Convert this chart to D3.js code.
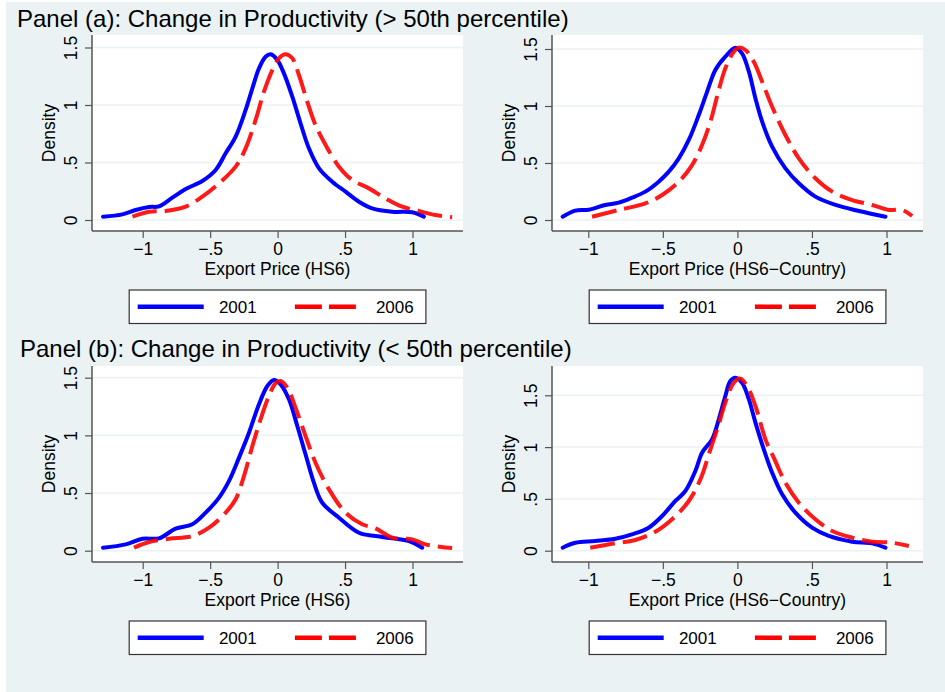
<!DOCTYPE html>
<html>
<head>
<meta charset="utf-8">
<script src="https://cdn.jsdelivr.net/npm/d3@7"></script>
<style>
  html, body { margin: 0; padding: 0; background: #fff; }
  svg { display: block; }
</style>
</head>
<body>
<svg id="chart" width="945" height="692"></svg>
<script>
// Kernel density estimates, [export price, density]
const aHs6_2001 = [[-1.294,0.029],[-1.150,0.049],[-1.052,0.087],[-0.953,0.113],[-0.879,0.119],[-0.780,0.194],[-0.681,0.270],[-0.558,0.339],[-0.459,0.435],[-0.385,0.580],[-0.311,0.725],[-0.237,0.957],[-0.187,1.145],[-0.138,1.319],[-0.089,1.420],[-0.052,1.441],[-0.002,1.391],[0.047,1.275],[0.109,1.072],[0.170,0.841],[0.232,0.623],[0.307,0.449],[0.405,0.333],[0.504,0.246],[0.603,0.159],[0.701,0.101],[0.850,0.072],[0.998,0.067],[1.084,0.029]];
const aHs6_2006 = [[-1.076,0.029],[-0.953,0.072],[-0.830,0.078],[-0.681,0.116],[-0.558,0.203],[-0.434,0.319],[-0.311,0.464],[-0.237,0.623],[-0.163,0.870],[-0.101,1.116],[-0.039,1.304],[0.010,1.406],[0.059,1.441],[0.109,1.406],[0.158,1.261],[0.220,1.029],[0.281,0.826],[0.356,0.652],[0.455,0.464],[0.553,0.348],[0.677,0.275],[0.800,0.188],[0.924,0.116],[1.047,0.078],[1.170,0.043],[1.294,0.023]];
const aCty_2001 = [[-1.172,0.029],[-1.087,0.082],[-0.997,0.090],[-0.886,0.132],[-0.796,0.152],[-0.707,0.196],[-0.617,0.249],[-0.528,0.336],[-0.460,0.424],[-0.393,0.541],[-0.326,0.702],[-0.259,0.921],[-0.203,1.126],[-0.148,1.316],[-0.081,1.433],[-0.013,1.512],[0.031,1.462],[0.077,1.301],[0.121,1.067],[0.166,0.863],[0.233,0.643],[0.322,0.453],[0.412,0.322],[0.523,0.205],[0.658,0.132],[0.815,0.079],[0.993,0.029]];
const aCty_2006 = [[-0.975,0.029],[-0.796,0.088],[-0.617,0.146],[-0.505,0.219],[-0.393,0.336],[-0.304,0.482],[-0.237,0.658],[-0.181,0.863],[-0.125,1.140],[-0.081,1.330],[-0.024,1.477],[0.009,1.512],[0.054,1.491],[0.110,1.389],[0.166,1.213],[0.233,0.994],[0.322,0.746],[0.412,0.541],[0.523,0.366],[0.636,0.249],[0.770,0.175],[0.904,0.132],[1.016,0.088],[1.105,0.088],[1.172,0.035]];
const bHs6_2001 = [[-1.294,0.026],[-1.126,0.055],[-1.002,0.104],[-0.879,0.107],[-0.756,0.191],[-0.632,0.229],[-0.533,0.330],[-0.434,0.460],[-0.360,0.605],[-0.286,0.807],[-0.212,1.023],[-0.138,1.270],[-0.076,1.428],[-0.027,1.481],[0.022,1.443],[0.084,1.313],[0.146,1.081],[0.207,0.836],[0.269,0.590],[0.331,0.416],[0.455,0.286],[0.603,0.156],[0.726,0.127],[0.850,0.107],[0.973,0.084],[1.072,0.026]];
const bHs6_2006 = [[-1.064,0.026],[-0.953,0.075],[-0.805,0.104],[-0.632,0.127],[-0.508,0.200],[-0.385,0.330],[-0.311,0.446],[-0.249,0.648],[-0.187,0.908],[-0.126,1.140],[-0.064,1.342],[-0.015,1.452],[0.022,1.472],[0.072,1.414],[0.133,1.240],[0.207,0.995],[0.281,0.763],[0.381,0.532],[0.504,0.330],[0.627,0.229],[0.726,0.194],[0.850,0.113],[0.998,0.098],[1.096,0.055],[1.294,0.023]];
const bCty_2001 = [[-1.172,0.029],[-1.087,0.077],[-0.953,0.094],[-0.819,0.116],[-0.707,0.158],[-0.595,0.222],[-0.505,0.335],[-0.416,0.480],[-0.349,0.576],[-0.282,0.769],[-0.237,0.946],[-0.170,1.075],[-0.125,1.268],[-0.081,1.493],[-0.047,1.638],[-0.013,1.670],[0.031,1.622],[0.077,1.461],[0.121,1.236],[0.177,0.979],[0.233,0.753],[0.300,0.544],[0.389,0.367],[0.501,0.222],[0.613,0.142],[0.770,0.087],[0.904,0.071],[0.993,0.029]];
const bCty_2006 = [[-0.987,0.029],[-0.841,0.068],[-0.685,0.103],[-0.550,0.183],[-0.438,0.303],[-0.326,0.480],[-0.248,0.689],[-0.181,0.979],[-0.125,1.220],[-0.081,1.429],[-0.024,1.622],[0.020,1.661],[0.065,1.590],[0.121,1.397],[0.188,1.075],[0.244,0.898],[0.322,0.656],[0.412,0.463],[0.523,0.303],[0.636,0.190],[0.770,0.126],[0.904,0.087],[1.038,0.077],[1.150,0.045]];

const years = ["2001", "2006"];
const xTicks = [-1, -0.5, 0, 0.5, 1];
const yTicks = [0, 0.5, 1, 1.5];
const rowTitles = [
  "Panel (a): Change in Productivity (> 50th percentile)",
  "Panel (b): Change in Productivity (< 50th percentile)"
];
const xTitles = ["Export Price (HS6)", "Export Price (HS6\u2212Country)"];
const yTitle = "Density";

(function() {
  const svg = d3.select("#chart");
  const FONT = "'Liberation Sans', Arial, Helvetica, sans-serif";
  const BG = "#eaf2f3";
  const AXIS = "#555555";
  const BLUE = "#0000ff";
  const RED = "#ff0000";

  // Stata-ish tick labels: -.5 -> "−.5"
  const fmt = d => d === 0 ? "0" : (d < 0 ? "\u2212" : "") + String(Math.abs(d)).replace(/^0\./, ".");

  svg.append("rect")
    .attr("x", 6).attr("y", 2)
    .attr("width", 939).attr("height", 690)
    .attr("fill", BG);

  // Row titles
  [[17, 27], [20, 357]].forEach((p, i) => {
    svg.append("text")
      .attr("x", p[0]).attr("y", p[1])
      .attr("font-family", FONT)
      .attr("font-size", 24)
      .attr("fill", "#000")
      .text(rowTitles[i]);
  });

  // Panel geometry (pixels): plot box + where -1/1 and 0/1.5 fall
  const panels = [
    { box: [92, 35, 463, 231],   xr: [142.7, 412.5], yr: [220, 47.5],   series: [aHs6_2001, aHs6_2006], xt: 0 },
    { box: [552, 35, 923, 231],  xr: [588.3, 886.5], yr: [220, 49],     series: [aCty_2001, aCty_2006], xt: 1 },
    { box: [92, 366, 463, 562],  xr: [142.7, 412.5], yr: [550.7, 377.7], series: [bHs6_2001, bHs6_2006], xt: 0 },
    { box: [552, 366, 923, 562], xr: [588.3, 886.5], yr: [550.7, 395.3], series: [bCty_2001, bCty_2006], xt: 1 }
  ];

  panels.forEach(drawPanel);

  function drawPanel(p) {
    const [x0, y0, x1, y1] = p.box;
    const cx = (x0 + x1) / 2;
    const x = d3.scaleLinear().domain([-1, 1]).range(p.xr);
    const y = d3.scaleLinear().domain([0, 1.5]).range(p.yr);
    const g = svg.append("g");

    // plot region
    g.append("rect")
      .attr("x", x0).attr("y", y0)
      .attr("width", x1 - x0).attr("height", y1 - y0)
      .attr("fill", "#fff");

    // grid lines
    g.selectAll(".grid").data(yTicks).join("line")
      .attr("x1", x0).attr("x2", x1)
      .attr("y1", d => y(d)).attr("y2", d => y(d))
      .attr("stroke", BG)
      .attr("stroke-width", 1.5);

    // density curves, 2006 drawn on top
    const line = d3.line()
      .x(d => x(d[0]))
      .y(d => y(d[1]))
      .curve(d3.curveCatmullRom.alpha(0.5));

    g.append("path")
      .attr("d", line(p.series[0]))
      .attr("fill", "none")
      .attr("stroke", BLUE)
      .attr("stroke-width", 4)
      .attr("stroke-linecap", "round")
      .attr("stroke-linejoin", "round");

    g.append("path")
      .attr("d", line(p.series[1]))
      .attr("fill", "none")
      .attr("stroke", RED)
      .attr("stroke-opacity", 0.9)
      .attr("stroke-width", 4)
      .attr("stroke-dasharray", "25,8")
      .attr("stroke-linejoin", "round");

    // y axis
    const yAxis = g.append("g")
      .attr("transform", `translate(${x0},0)`)
      .call(d3.axisLeft(y).tickValues(yTicks).tickFormat(fmt).tickSize(7).tickSizeOuter(0));
    yAxis.select(".domain").remove();
    yAxis.selectAll(".tick line").attr("stroke", AXIS).attr("stroke-width", 1.2);
    yAxis.selectAll(".tick text")
      .attr("x", null).attr("dy", null)
      .attr("text-anchor", "middle")
      .attr("transform", "translate(-15.5,0) rotate(-90)")
      .attr("font-family", FONT)
      .attr("font-size", 17.5)
      .attr("fill", "#000");
    g.append("line")
      .attr("x1", x0).attr("x2", x0)
      .attr("y1", y0).attr("y2", y1)
      .attr("stroke", AXIS).attr("stroke-width", 1.5);

    // x axis
    const xAxis = g.append("g")
      .attr("transform", `translate(0,${y1})`)
      .call(d3.axisBottom(x).tickValues(xTicks).tickFormat(fmt).tickSize(7).tickSizeOuter(0));
    xAxis.select(".domain").remove();
    xAxis.selectAll(".tick line").attr("stroke", AXIS).attr("stroke-width", 1.2);
    xAxis.selectAll(".tick text")
      .attr("y", 24).attr("dy", null)
      .attr("font-family", FONT)
      .attr("font-size", 17.5)
      .attr("fill", "#000");
    g.append("line")
      .attr("x1", x0).attr("x2", x1)
      .attr("y1", y1).attr("y2", y1)
      .attr("stroke", AXIS).attr("stroke-width", 1.5);

    // axis titles
    g.append("text")
      .attr("x", cx).attr("y", y1 + 44)
      .attr("text-anchor", "middle")
      .attr("font-family", FONT)
      .attr("font-size", 17.5)
      .text(xTitles[p.xt]);
    g.append("text")
      .attr("transform", `translate(${x0 - 37},${(y0 + y1) / 2}) rotate(-90)`)
      .attr("text-anchor", "middle")
      .attr("font-family", FONT)
      .attr("font-size", 17.5)
      .text(yTitle);

    // legend
    const lx = cx - 148.3;
    const ly = y1 + 59;
    const lg = g.append("g").attr("transform", `translate(${lx},${ly})`);
    lg.append("rect")
      .attr("width", 296.7).attr("height", 33.5)
      .attr("fill", "#fff")
      .attr("stroke", "#333")
      .attr("stroke-width", 1.2);
    lg.append("line")
      .attr("x1", 8.5).attr("x2", 74.5)
      .attr("y1", 16.7).attr("y2", 16.7)
      .attr("stroke", BLUE).attr("stroke-width", 4.5);
    lg.append("line")
      .attr("x1", 165.7).attr("x2", 227.5)
      .attr("y1", 16.7).attr("y2", 16.7)
      .attr("stroke", RED).attr("stroke-width", 4.5)
      .attr("stroke-dasharray", "27,7");
    [89.7, 246.7].forEach((tx, i) => {
      lg.append("text")
        .attr("x", tx).attr("y", 23.3)
        .attr("font-family", FONT)
        .attr("font-size", 17)
        .text(years[i]);
    });
  }
})();
</script>
</body>
</html>
